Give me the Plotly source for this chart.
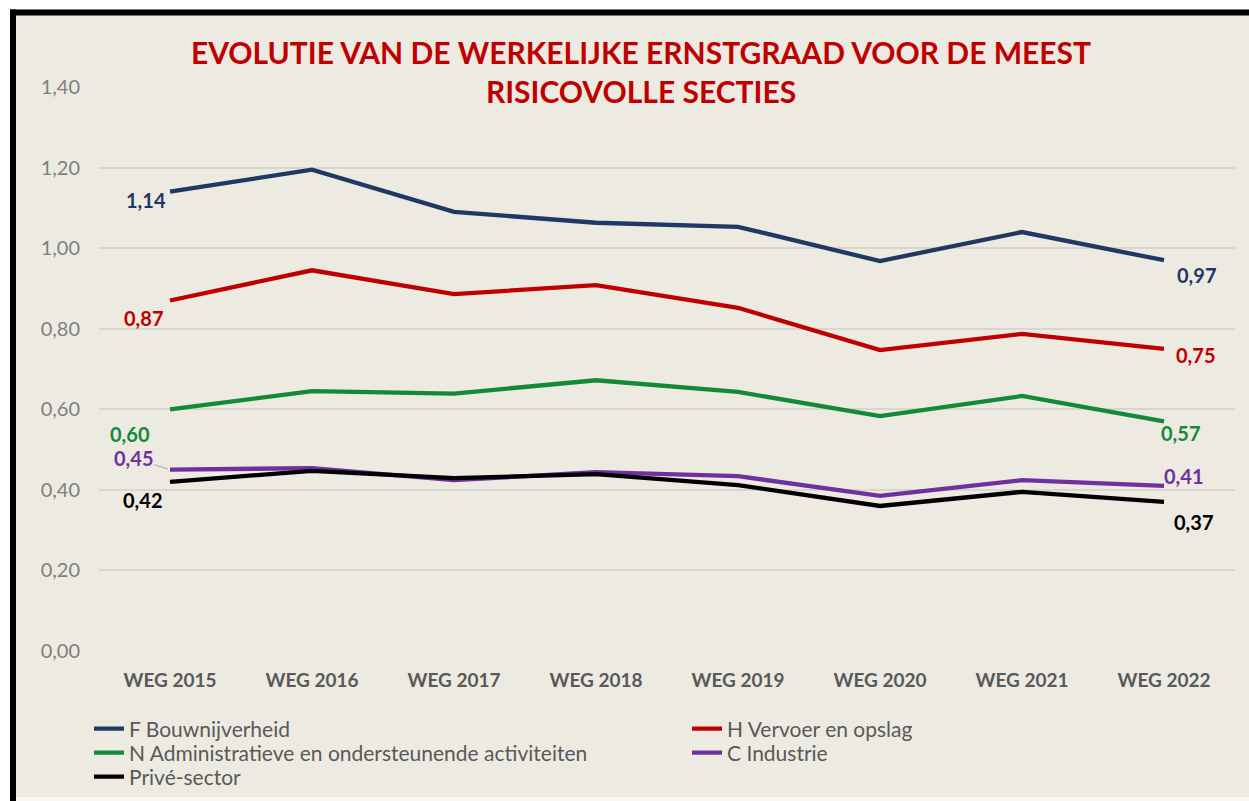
import plotly.graph_objects as go

years = ["WEG 2015", "WEG 2016", "WEG 2017", "WEG 2018", "WEG 2019", "WEG 2020", "WEG 2021", "WEG 2022"]

f_bouw = [1.14, 1.195, 1.09, 1.063, 1.053, 0.968, 1.04, 0.97]
h_vervoer = [0.87, 0.945, 0.886, 0.908, 0.852, 0.747, 0.787, 0.75]
n_admin = [0.60, 0.645, 0.639, 0.672, 0.643, 0.583, 0.633, 0.57]
c_industrie = [0.45, 0.454, 0.424, 0.444, 0.434, 0.385, 0.424, 0.41]
prive = [0.42, 0.447, 0.429, 0.439, 0.412, 0.36, 0.395, 0.37]

names = ["F Bouwnijverheid", "H Vervoer en opslag", "N Administratieve en ondersteunende activiteiten",
         "C Industrie", "Privé-sector"]
series = [f_bouw, h_vervoer, n_admin, c_industrie, prive]
colors = ["#203864", "#c00000", "#138a3a", "#7030a0", "#000000"]
legend_ids = ["legend", "legend2", "legend3", "legend4", "legend5"]
# legend entry positions (pixels): text column start and row centre
legend_pos = [(89, 729), (687, 729), (89, 753), (687, 753), (89, 777)]

# label offsets (pixels) for first and last points
first_off = [(-24, -8), (-27, -17), (-40, -25), (-37, 12), (-28, -18)]
last_off = [(32, -15), (31, -6), (16, -12), (19, 10), (29, -20)]

W, H = 1249, 801
L, R, T, B = 99, 14, 87, 150
pw, ph = W - L - R, H - T - B
FONT = "Lato, 'Open Sans', sans-serif"


def px(x):
    return (x - L) / pw


def py(y):
    return (H - B - y) / ph


fig = go.Figure()
for name, vals, col, lg in zip(names, series, colors, legend_ids):
    fig.add_trace(go.Scatter(x=years, y=vals, name=name, mode="lines", legend=lg,
                             line=dict(color=col, width=4.3)))

ann = []
for i, (vals, col) in enumerate(zip(series, colors)):
    for idx, off in ((0, first_off[i]), (len(vals) - 1, last_off[i])):
        txt = f"{vals[idx]:.2f}".replace(".", ",")
        if i == 3 and idx == 0:
            ann.append(dict(x=years[idx], y=vals[idx], xref="x", yref="y", text=txt,
                            showarrow=True, arrowhead=0, arrowwidth=1, arrowcolor="#a6a6a6",
                            ax=off[0], ay=-off[1], standoff=2,
                            font=dict(family=FONT, size=20, color=col, weight="bold")))
        else:
            ann.append(dict(x=years[idx], y=vals[idx], xref="x", yref="y", text=txt,
                            showarrow=False, xshift=off[0], yshift=off[1],
                            font=dict(family=FONT, size=20, color=col, weight="bold")))

shapes = [
    dict(type="rect", xref="paper", yref="paper", x0=px(0), x1=px(W), y0=py(0), y1=py(9.5),
         fillcolor="white", line_width=0, layer="above"),
    dict(type="rect", xref="paper", yref="paper", x0=px(0), x1=px(10), y0=py(0), y1=py(H),
         fillcolor="white", line_width=0, layer="above"),
    dict(type="rect", xref="paper", yref="paper", x0=px(10), x1=px(W), y0=py(9.5), y1=py(15.5),
         fillcolor="black", line_width=0, layer="above"),
    dict(type="rect", xref="paper", yref="paper", x0=px(10), x1=px(16), y0=py(9.5), y1=py(H),
         fillcolor="black", line_width=0, layer="above"),
    dict(type="rect", xref="paper", yref="paper", x0=px(16), x1=px(W), y0=py(797), y1=py(H),
         fillcolor="#f7f6f2", line_width=0, layer="above"),
]

legend_common = dict(orientation="v", yanchor="middle", xanchor="left", bgcolor="rgba(0,0,0,0)",
                     font=dict(family=FONT, size=21, color="#595959"), tracegroupgap=0,
                     itemwidth=30)
legends = {lg: dict(x=px(x), y=py(y), **legend_common) for lg, (x, y) in zip(legend_ids, legend_pos)}

fig.update_layout(
    width=W, height=H,
    margin=dict(l=L, r=R, t=T, b=B, autoexpand=False),
    paper_bgcolor="#edeae2",
    plot_bgcolor="#edeae2",
    separators=",.",
    title=dict(text="EVOLUTIE VAN DE WERKELIJKE ERNSTGRAAD VOOR DE MEEST<br>RISICOVOLLE SECTIES",
               x=641 / W, xanchor="center", y=1 - 64 / H, yanchor="middle",
               font=dict(family=FONT, size=30, color="#c00000", weight="bold")),
    xaxis=dict(range=[-0.5, len(years) - 0.5], showgrid=False, zeroline=False, showline=False, ticks="",
               tickfont=dict(family=FONT, size=19, color="#595959", weight="bold"),
               ticklabelstandoff=16),
    yaxis=dict(range=[0, 1.4], dtick=0.2, tickformat=".2f", showgrid=True, gridcolor="#d9d6cf",
               gridwidth=1.5, zeroline=False, showline=False, ticks="",
               tickfont=dict(family=FONT, size=20, color="#7f7f7f"),
               ticklabelstandoff=18),
    annotations=ann,
    shapes=shapes,
    showlegend=True,
    **legends,
)

fig.write_html("out.html", config={"displayModeBar": False},
               post_script="document.body.style.margin='0';document.body.style.overflow='hidden';")
